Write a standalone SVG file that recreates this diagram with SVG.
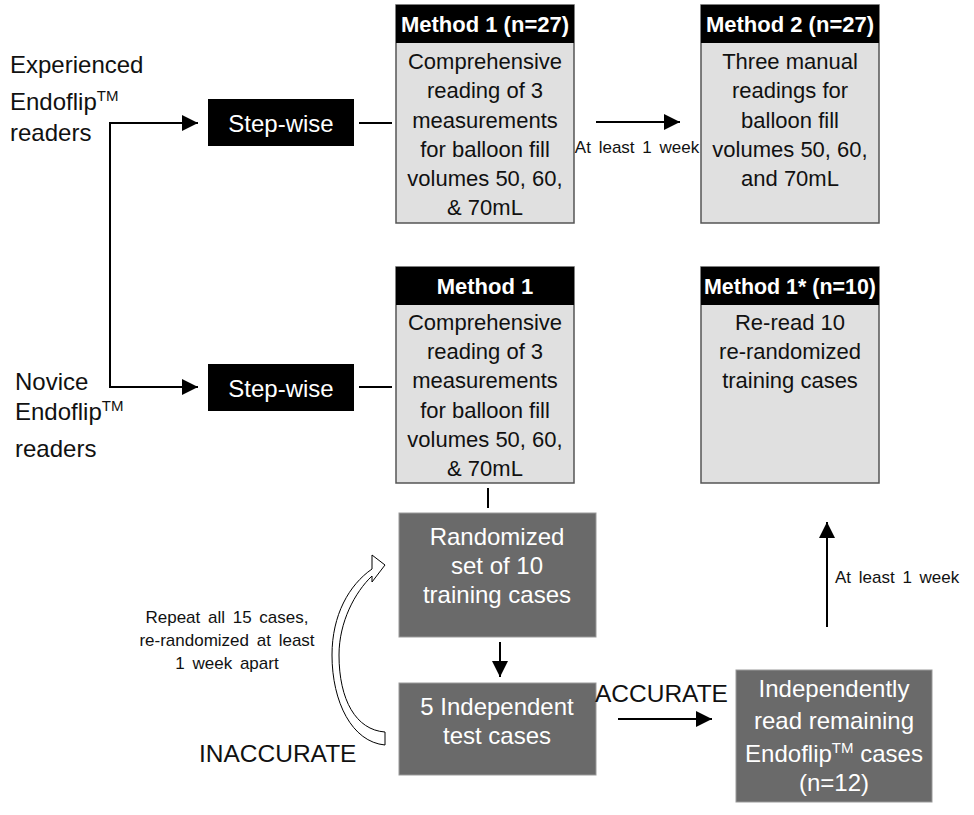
<svg xmlns="http://www.w3.org/2000/svg" width="974" height="815" viewBox="0 0 974 815">
<style>
text{font-family:"Liberation Sans",Arial,sans-serif;}
.lbl{font-size:24px;fill:#111;}
.big{font-size:24.5px;fill:#111;}
.body{font-size:22px;fill:#111;text-anchor:middle;}
.hdr{font-size:22px;font-weight:bold;fill:#fff;text-anchor:middle;}
.wt{font-size:24px;fill:#fff;text-anchor:middle;}
.sm{font-size:17px;fill:#111;}
.light{fill:#e0e0e0;stroke:#555;stroke-width:1.5;}
.dark{fill:#6a6a6a;stroke:#999;stroke-width:1;}
.blk{fill:#000;}
.conn{stroke:#000;stroke-width:2;fill:none;}
.tm{font-size:15px;}
</style>
<defs>
<marker id="ah" markerUnits="userSpaceOnUse" markerWidth="16" markerHeight="16" viewBox="0 0 16 16" refX="16" refY="8" orient="auto">
<path d="M0,0 L16,8 L0,16 Z" fill="#000"/>
</marker>
</defs>

<g id="label-experienced">
<text class="lbl" x="10" y="73">Experienced</text>
<text class="lbl" x="10" y="110">Endoflip<tspan class="tm" dy="-9">TM</tspan></text>
<text class="lbl" x="10" y="141">readers</text>
</g>
<g id="label-novice">
<text class="lbl" x="15" y="390">Novice</text>
<text class="lbl" x="15" y="420">Endoflip<tspan class="tm" dy="-9">TM</tspan></text>
<text class="lbl" x="15" y="457">readers</text>
</g>

<g id="stepwise-1">
<rect class="blk" x="208" y="99" width="146" height="47"/>
<text class="wt" x="281" y="132">Step-wise</text>
</g>
<g id="stepwise-2">
<rect class="blk" x="208" y="364" width="146" height="47"/>
<text class="wt" x="281" y="397">Step-wise</text>
</g>

<g id="method1-top">
<rect class="light" x="396" y="5" width="178" height="218"/>
<rect class="blk" x="396" y="5" width="178" height="38"/>
<text class="hdr" x="485" y="32">Method 1 (n=27)</text>
<text class="body" x="485" y="69">Comprehensive</text>
<text class="body" x="485" y="98">reading of 3</text>
<text class="body" x="485" y="128">measurements</text>
<text class="body" x="485" y="157">for balloon fill</text>
<text class="body" x="485" y="186">volumes 50, 60,</text>
<text class="body" x="485" y="215">&amp; 70mL</text>
</g>

<g id="method2">
<rect class="light" x="701" y="5" width="178" height="218"/>
<rect class="blk" x="701" y="5" width="178" height="38"/>
<text class="hdr" x="790" y="32">Method 2 (n=27)</text>
<text class="body" x="790" y="69">Three manual</text>
<text class="body" x="790" y="98">readings for</text>
<text class="body" x="790" y="128">balloon fill</text>
<text class="body" x="790" y="157">volumes 50, 60,</text>
<text class="body" x="790" y="186">and 70mL</text>
</g>

<g id="method1-novice">
<rect class="light" x="396" y="267" width="178" height="216"/>
<rect class="blk" x="396" y="267" width="178" height="38"/>
<text class="hdr" x="485" y="294">Method 1</text>
<text class="body" x="485" y="330">Comprehensive</text>
<text class="body" x="485" y="359">reading of 3</text>
<text class="body" x="485" y="388">measurements</text>
<text class="body" x="485" y="418">for balloon fill</text>
<text class="body" x="485" y="447">volumes 50, 60,</text>
<text class="body" x="485" y="476">&amp; 70mL</text>
</g>

<g id="method1star">
<rect class="light" x="701" y="267" width="178" height="216"/>
<rect class="blk" x="701" y="267" width="178" height="38"/>
<text class="hdr" x="790" y="294" textLength="172" lengthAdjust="spacingAndGlyphs">Method 1* (n=10)</text>
<text class="body" x="790" y="330">Re-read 10</text>
<text class="body" x="790" y="359">re-randomized</text>
<text class="body" x="790" y="388">training cases</text>
</g>

<g id="randomized">
<rect class="dark" x="399" y="513" width="197" height="124"/>
<text class="wt" x="497" y="545">Randomized</text>
<text class="wt" x="497" y="574">set of 10</text>
<text class="wt" x="497" y="603">training cases</text>
</g>

<g id="independent-test">
<rect class="dark" x="399" y="683" width="197" height="92"/>
<text class="wt" x="497" y="715">5 Independent</text>
<text class="wt" x="497" y="744">test cases</text>
</g>

<g id="independently-read">
<rect class="dark" x="736" y="670" width="196" height="132"/>
<text class="wt" x="834" y="697">Independently</text>
<text class="wt" x="834" y="729">read remaining</text>
<text class="wt" x="834" y="762">Endoflip<tspan class="tm" dy="-9">TM</tspan><tspan dy="9"> cases</tspan></text>
<text class="wt" x="834" y="791">(n=12)</text>
</g>

<g id="connectors">
<path class="conn" d="M110,255 V123 H198" marker-end="url(#ah)"/>
<path class="conn" d="M110,255 V387 H198" marker-end="url(#ah)"/>
<path class="conn" d="M359,123 H392"/>
<path class="conn" d="M359,387 H392"/>
<path class="conn" d="M596,122 H680" marker-end="url(#ah)"/>
<path class="conn" d="M488,488 V508"/>
<path class="conn" d="M500,642 V677" marker-end="url(#ah)"/>
<path class="conn" d="M618,719 H712" marker-end="url(#ah)"/>
<path class="conn" d="M827,627 V522" marker-end="url(#ah)"/>
<path d="M385,745 C352,742 332,702 332,655 C332,615 349,585 372,569 L372,555 L385,565 L372,582 L372,576 C355,592 339,622 339,655 C339,700 356,730 385,732 Z" fill="#fff" stroke="#000" stroke-width="1"/>
</g>

<g id="edge-labels">
<text class="sm" x="637" y="153" text-anchor="middle" word-spacing="3">At least 1 week</text>
<text class="sm" x="835" y="583" word-spacing="3">At least 1 week</text>
<text class="sm" x="227" y="623" text-anchor="middle" word-spacing="3">Repeat all 15 cases,</text>
<text class="sm" x="227" y="646" text-anchor="middle" word-spacing="3">re-randomized at least</text>
<text class="sm" x="227" y="669" text-anchor="middle" word-spacing="3">1 week apart</text>
<text class="big" x="199" y="762">INACCURATE</text>
<text class="big" x="595" y="702">ACCURATE</text>
</g>
</svg>
